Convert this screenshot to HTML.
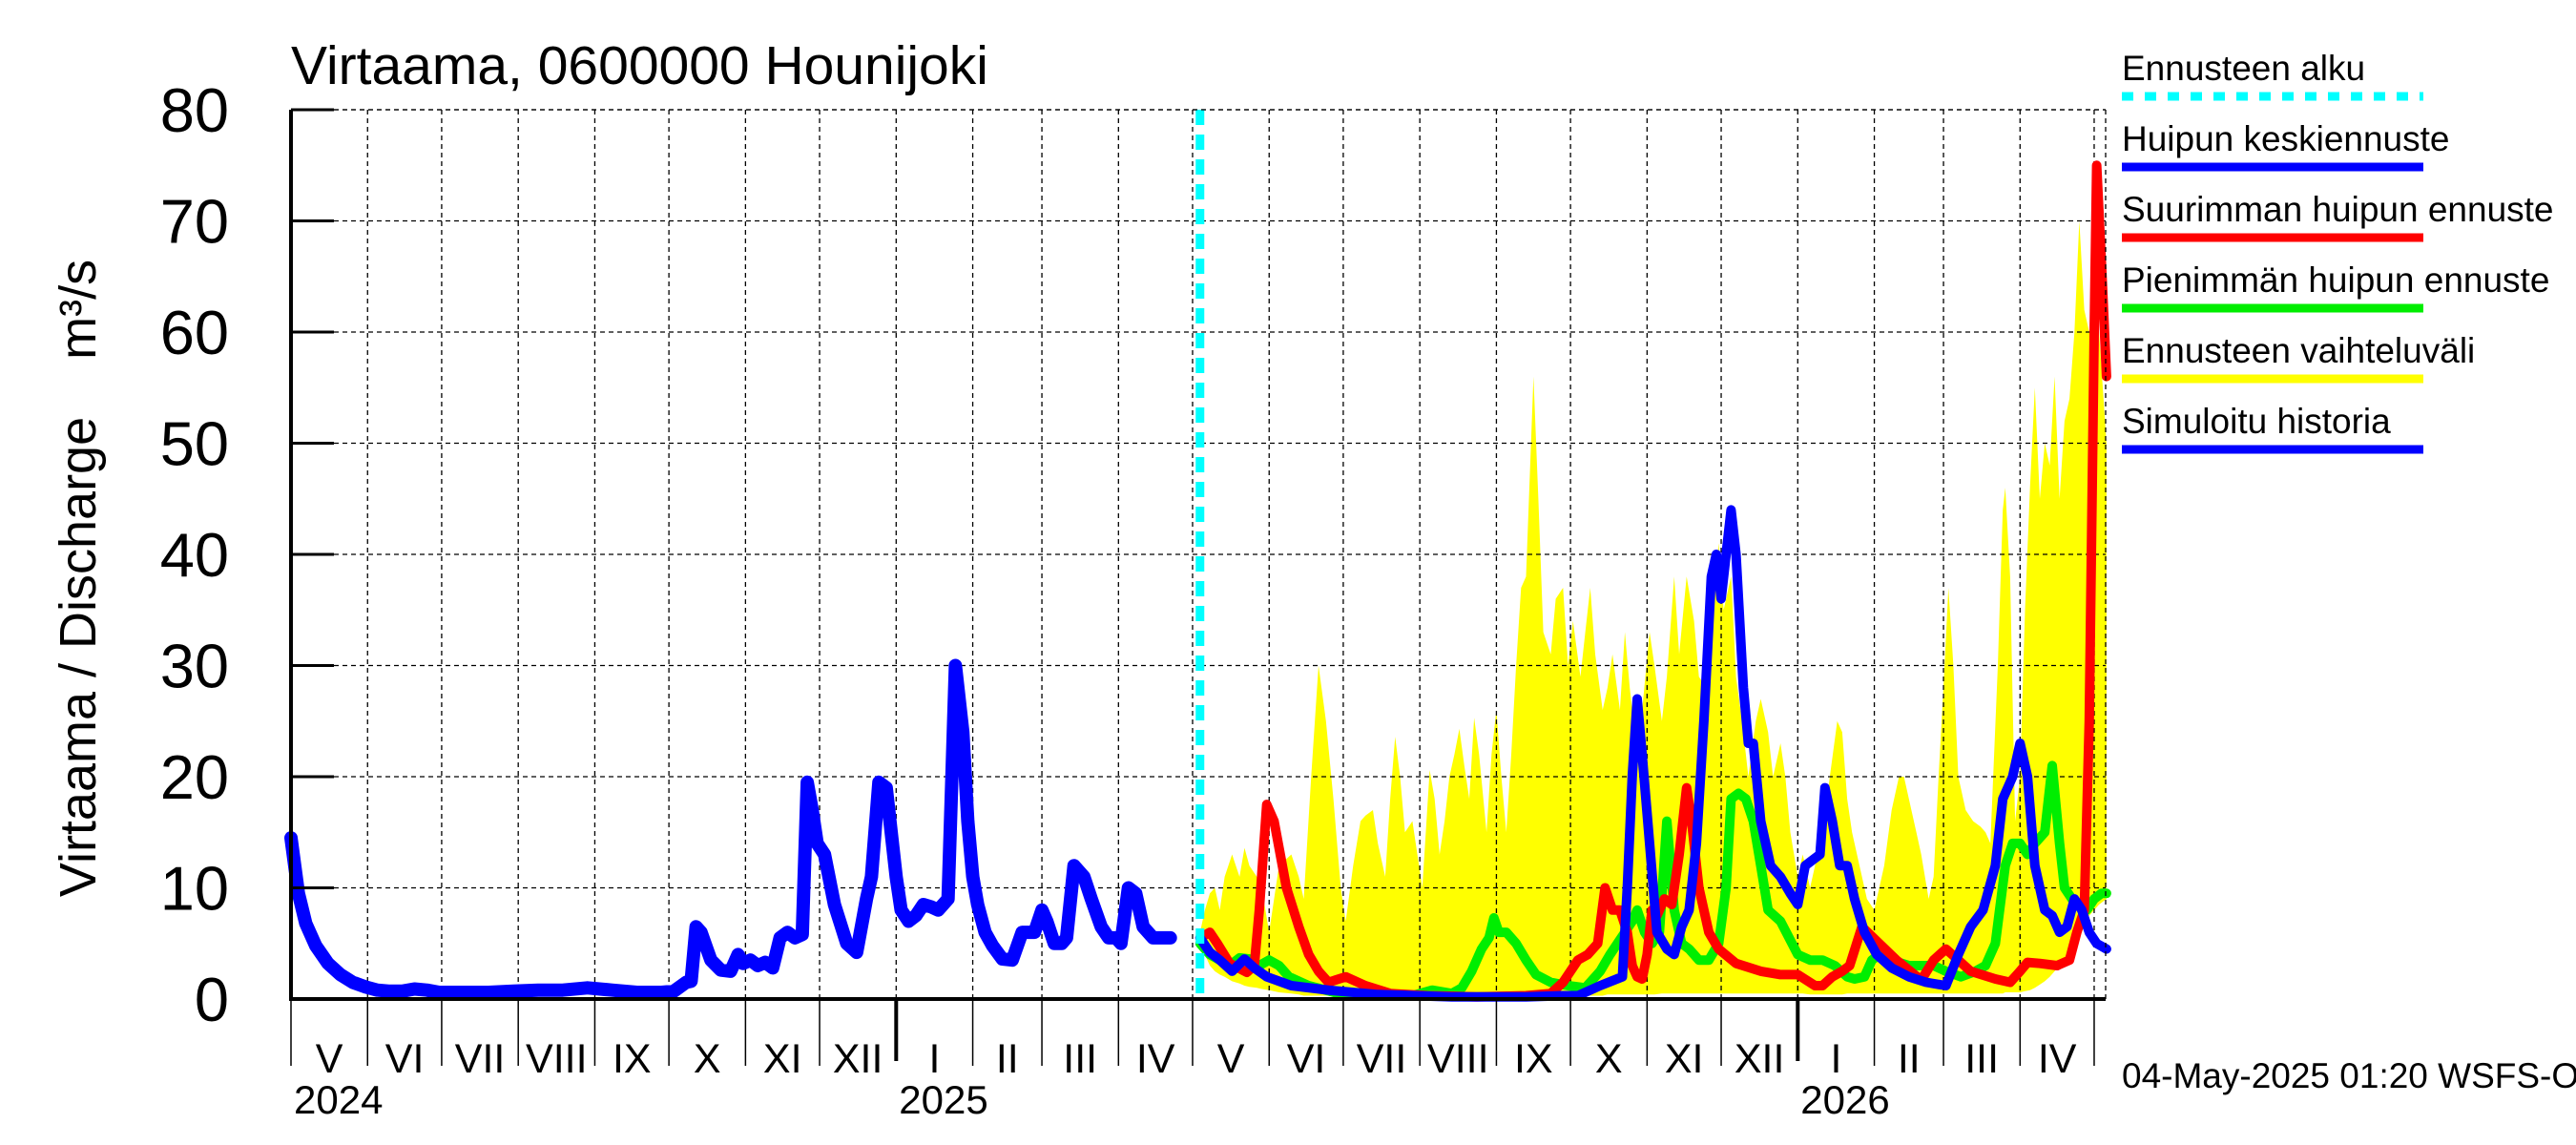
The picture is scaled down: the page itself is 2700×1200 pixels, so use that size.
<!DOCTYPE html>
<html><head><meta charset="utf-8">
<style>
html,body{margin:0;padding:0;background:#fff;}
svg{display:block;font-family:"Liberation Sans",Arial,sans-serif;}
</style></head>
<body>
<svg id="chart" width="2700" height="1200" viewBox="0 0 2700 1200">
<rect x="0" y="0" width="2700" height="1200" fill="#fff"/>
<g id="band"></g>
<g id="grid"></g>
<g id="series"></g>
<g id="axes"></g>
<text x="305" y="88" font-size="57">Virtaama, 0600000 Hounijoki</text>
<text transform="translate(100,606) rotate(-90)" text-anchor="middle" font-size="54">Virtaama / Discharge &#160;&#160; m³/s</text>
<text x="2224" y="1140" font-size="37">04-May-2025 01:20 WSFS-O</text>
<g id="legend"></g>
</svg>
<script>
// ---- data (day index from 1 May 2024) ----
const yTicks = [0,10,20,30,40,50,60,70,80];
const monthLabels = ["V","VI","VII","VIII","IX","X","XI","XII","I","II","III","IV","V","VI","VII","VIII","IX","X","XI","XII","I","II","III","IV"];
const monthStarts = [0,31,61,92,123,153,184,214,245,276,304,335,365,396,426,457,488,518,549,579,610,641,669,700,730];
const yearLabels = ["2024","2025","2026"];
const yearStarts = [0,245,610];
const forecastStart = 368;

const histDays = [0,3,6,10,15,20,25,30,35,40,45,50,55,60,70,80,90,100,110,120,130,140,150,155,160,162,164,166,170,174,178,181,183,186,189,192,195,198,201,204,207,209,211,213,216,220,225,229,233,235,238,241,243,245,247,250,253,256,259,262,266,269,272,274,276,278,281,284,288,292,296,301,304,306,309,312,314,317,321,324,328,331,334,336,339,342,345,349,353,356,359,361,364,366,368];
const histVals = [14.5,9.5,6.8,4.8,3.2,2.2,1.5,1.1,0.8,0.7,0.7,0.9,0.8,0.6,0.6,0.6,0.7,0.8,0.8,1.0,0.8,0.6,0.6,0.7,1.5,1.6,6.5,6.0,3.5,2.6,2.5,4.0,3.2,3.5,3.0,3.3,2.8,5.5,6.0,5.5,5.8,19.5,17.0,14.0,13.0,8.5,5.0,4.2,9.0,11.0,19.5,19.0,15.0,11.0,8.0,7.0,7.5,8.5,8.3,8.0,9.0,30.0,24.0,16.0,11.0,8.5,6.0,4.8,3.6,3.5,6.0,6.0,8.0,7.0,5.0,5.0,5.5,12.0,11.0,9.0,6.5,5.5,5.5,5.0,10.0,9.5,6.5,5.5,5.5,5.5];

const medDays = [368,372,376,381,386,390,395,405,420,440,470,500,515,521,530,539,541,543,545,547,550,553,557,560,563,566,569,572,575,577,579,581,583,585,588,590,592,595,599,603,607,610,613,616,619,621,624,627,630,633,637,642,648,655,662,670,675,680,685,690,693,697,700,703,706,710,713,716,719,722,725,728,731,735];
const medVals = [5.5,4.2,3.5,2.5,3.6,2.8,2.0,1.2,0.8,0.4,0.2,0.2,0.3,0.3,1.2,2.0,10.0,20.0,27.0,22.0,14.0,6.0,4.5,4.0,6.5,8.0,14.0,25.0,38.0,40.0,36.0,40.0,44.0,40.0,28.0,23.0,23.0,16.0,12.0,11.0,9.5,8.5,12.0,12.5,13.0,19.0,16.0,12.0,12.0,9.0,6.0,4.0,2.8,2.0,1.5,1.2,4.0,6.5,8.0,12.0,18.0,20.0,23.0,20.0,12.0,8.0,7.5,6.0,6.5,9.0,8.0,6.0,5.0,4.5];

const maxDays = [368,372,375,380,387,390,392,395,398,403,408,412,416,420,427,435,445,460,480,500,510,515,521,525,529,532,535,538,541,543,545,547,549,551,553,556,559,562,565,567,570,574,578,585,595,603,610,617,620,624,628,631,636,643,650,660,665,670,675,680,690,696,700,703,708,715,720,723,726,728,730,731,733,735];
const maxVals = [5.5,6.0,5.0,3.2,2.4,3.0,8.0,17.5,16.0,10.0,6.5,4.0,2.5,1.5,2.0,1.2,0.5,0.3,0.2,0.3,0.5,1.5,3.5,4.0,5.0,10.0,8.0,8.0,6.0,3.0,2.0,1.8,4.0,8.0,7.5,9.0,8.5,13.0,19.0,16.0,10.0,6.0,4.5,3.2,2.5,2.2,2.2,1.2,1.2,2.0,2.5,3.0,6.5,5.0,3.5,1.7,3.5,4.5,3.5,2.5,1.8,1.5,2.5,3.3,3.2,3.0,3.5,6.0,8.0,25.0,60.0,75.0,66.0,56.0];

const minDays = [368,372,376,380,384,388,392,396,400,404,412,424,440,454,462,470,474,478,482,485,487,489,492,496,500,504,510,517,524,530,534,537,540,543,545,548,551,554,557,560,563,566,570,574,578,581,583,586,589,592,595,598,603,610,615,620,625,630,633,637,640,643,648,655,660,665,670,676,682,686,690,694,697,700,703,706,710,713,716,718,721,724,727,730,733,735];
const minVals = [5.0,4.0,3.5,3.0,3.7,3.6,3.0,3.5,3.0,2.0,1.2,0.5,0.3,0.3,0.8,0.5,1.0,2.5,4.5,5.5,7.3,6.0,6.0,5.0,3.5,2.2,1.5,1.2,1.0,2.5,4.0,5.0,6.0,7.0,8.0,6.0,5.0,6.0,16.0,8.0,5.0,4.5,3.5,3.5,5.0,10.0,18.0,18.5,18.0,16.0,12.0,8.0,7.0,4.0,3.5,3.5,3.0,2.0,1.8,2.0,3.5,4.0,3.5,3.0,3.0,3.0,2.5,2.0,2.5,3.0,5.0,12.0,14.0,14.0,13.0,14.0,15.0,21.0,14.0,10.0,9.0,8.5,8.0,9.0,9.5,9.5];

const bandDays = [368,370,372,374,376,378,381,384,386,388,391,393,396,400,405,408,410,413,416,419,422,425,427,430,433,435,438,440,443,445,447,449,451,454,456,458,461,463,465,467,469,471,473,475,477,479,481,484,486,488,490,492,494,496,498,500,503,505,507,510,512,515,517,519,522,524,526,528,531,533,535,538,540,542,545,547,550,552,555,557,560,562,565,568,570,573,575,578,580,583,585,588,590,593,595,598,600,603,605,607,610,612,615,617,620,623,626,628,630,632,635,638,641,645,648,651,653,656,658,660,663,665,667,669,671,673,675,678,681,684,686,688,691,693,694,696,698,700,702,704,706,708,710,712,714,716,718,720,722,724,726,728,730,732,735];
const bandUpper = [6.0,8.0,9.5,10.0,8.0,11.0,13.0,11.0,13.6,12.0,11.0,10.0,6.0,12.0,13.0,11.0,9.0,20.0,30.0,25.0,18.0,10.0,7.0,12.0,16.0,16.5,17.0,14.0,11.0,18.0,23.6,20.0,15.0,16.0,13.0,10.0,20.6,18.0,13.0,16.0,20.0,22.0,24.3,21.0,18.0,25.3,22.0,15.0,22.0,26.0,20.0,15.0,22.0,30.0,37.0,38.0,56.0,45.0,33.0,31.0,36.0,37.0,30.0,34.0,29.0,33.0,37.0,31.0,26.0,28.0,31.0,26.0,33.0,28.0,22.0,26.0,33.0,30.0,25.0,29.0,38.0,31.0,38.0,34.0,29.0,28.0,34.0,41.0,35.0,38.0,29.0,24.0,20.0,25.0,27.0,24.0,20.0,23.0,20.0,15.0,11.0,13.0,10.0,12.0,15.0,20.0,25.0,24.0,18.0,15.0,12.0,9.0,8.0,12.0,17.0,20.0,20.0,17.0,15.0,13.0,9.0,11.0,20.0,28.0,37.0,30.0,20.0,17.0,16.0,15.5,15.0,14.0,30.0,44.0,46.0,38.0,16.0,20.0,35.0,46.0,55.0,45.0,50.0,48.0,56.0,45.0,52.0,54.0,60.0,70.0,62.0,60.0,66.0,60.0,50.0];
const bandLower = [5.0,4.0,3.0,2.5,2.2,2.0,1.6,1.4,1.2,1.1,1.0,0.9,0.8,0.6,0.5,0.4,0.3,0.3,0.3,0.3,0.3,0.3,0.3,0.3,0.3,0.3,0.3,0.3,0.3,0.3,0.3,0.3,0.3,0.3,0.3,0.3,0.3,0.3,0.3,0.3,0.3,0.3,0.3,0.3,0.3,0.3,0.3,0.3,0.3,0.3,0.3,0.3,0.3,0.3,0.3,0.3,0.3,0.3,0.3,0.3,0.3,0.3,0.3,0.3,0.3,0.3,0.3,0.3,0.3,0.4,0.4,0.4,0.4,0.4,0.4,0.4,0.4,0.4,0.5,0.5,0.5,0.5,0.5,0.5,0.5,0.5,0.5,0.5,0.5,0.5,0.5,0.5,0.5,0.5,0.5,0.5,0.5,0.5,0.5,0.5,0.5,0.5,0.4,0.4,0.4,0.4,0.4,0.4,0.5,0.5,0.5,0.5,0.5,0.5,0.5,0.5,0.5,0.5,0.5,0.5,0.5,0.5,0.5,0.5,0.5,0.5,0.5,0.5,0.5,0.5,0.5,0.5,0.5,0.5,0.6,0.6,0.6,0.6,0.7,0.8,1.0,1.3,1.6,2.0,2.5,3.0,3.5,4.5,5.5,6.0,7.0,7.5,8.0,8.5,9.0];

const legendLabels = ["Ennusteen alku","Huipun keskiennuste","Suurimman huipun ennuste","Pienimmän huipun ennuste","Ennusteen vaihteluväli","Simuloitu historia"];
const legendColors = ["#00ffff","#0000ff","#ff0000","#00ee00","#ffff00","#0000ff"];

// ---- axes functions ----
const X0 = 305, X1 = 2207, Y0 = 1047, YTOP = 115;
const DAY_PX = 2.589;
function xs(d){ return X0 + d * DAY_PX; }
function ys(v){ return Y0 - (v / 80) * (Y0 - YTOP); }
const NS = "http://www.w3.org/2000/svg";
function mk(tag, parent, attrs){
  const e = document.createElementNS(NS, tag);
  for (const k in attrs) e.setAttribute(k, attrs[k]);
  parent.appendChild(e); return e;
}
function pathFrom(days, vals){
  return days.map((d,i)=>(i?"L":"M")+xs(d).toFixed(1)+","+ys(vals[i]).toFixed(1)).join(" ");
}

const grid = document.getElementById("grid");
const axes = document.getElementById("axes");
const series = document.getElementById("series");
const band = document.getElementById("band");
const legend = document.getElementById("legend");

yTicks.forEach(t=>{
  if (t===0) return;
  const l = mk("line", grid, {x1:X0, x2:X1, y1:ys(t), y2:ys(t), stroke:"#000", "stroke-width":1.3, "stroke-dasharray":"5,4"});
  
  
});
monthStarts.forEach((d,i)=>{
  if (i===0) return;
  const l = mk("line", grid, {x1:xs(d), x2:xs(d), y1:YTOP, y2:Y0, stroke:"#000", "stroke-width":1.3, "stroke-dasharray":"5,4"});
  
  
});

{
  let dStr = bandDays.map((d,i)=>(i?"L":"M")+xs(d).toFixed(1)+","+ys(bandUpper[i]).toFixed(1)).join(" ");
  for (let i = bandDays.length-1; i>=0; i--) dStr += " L"+xs(bandDays[i]).toFixed(1)+","+ys(bandLower[i]).toFixed(1);
  const p = mk("path", band, {d:dStr+" Z", fill:"#ffff00", stroke:"none"});
  
  
}

function line(days, vals, color, w, name){
  const p = mk("path", series, {d:pathFrom(days, vals), fill:"none", stroke:color, "stroke-width":w, "stroke-linejoin":"round", "stroke-linecap":"round"});
  
  
}
line(minDays, minVals, "#00ee00", 10, "min-peak-forecast-line");
line(maxDays, maxVals, "#ff0000", 10, "max-peak-forecast-line");
line(medDays, medVals, "#0000ff", 10, "median-peak-forecast-line");
line(histDays, histVals, "#0000ff", 14, "simulated-history-line");

{
  const l = mk("line", series, {x1:xs(forecastStart), x2:xs(forecastStart), y1:YTOP, y2:Y0, stroke:"#00ffff", "stroke-width":9, "stroke-dasharray":"16,10"});
  
  
}

{
  const a = mk("line", axes, {x1:X0, x2:X0, y1:YTOP, y2:Y0, stroke:"#000", "stroke-width":4});
  
  
  const b = mk("line", axes, {x1:X0-2, x2:X1, y1:Y0, y2:Y0, stroke:"#000", "stroke-width":4});
  
  
  const r = mk("line", axes, {x1:X1, x2:X1, y1:YTOP, y2:Y0, stroke:"#000", "stroke-width":1.3, "stroke-dasharray":"5,4"});
  
  
  const t = mk("line", axes, {x1:X0, x2:X1, y1:YTOP, y2:YTOP, stroke:"#000", "stroke-width":1.3, "stroke-dasharray":"5,4"});
  
  
}
yTicks.forEach(t=>{
  const tk = mk("line", axes, {x1:X0, x2:X0+45, y1:ys(t), y2:ys(t), stroke:"#000", "stroke-width":3});
  
  
  const tx = mk("text", axes, {x:240, y:ys(t)+23, "text-anchor":"end", "font-size":65});
  tx.textContent = t;
  
  
});
monthStarts.forEach((d,i)=>{
  const isYear = yearStarts.indexOf(d) > 0;
  const l = mk("line", axes, {x1:xs(d), x2:xs(d), y1:Y0, y2:isYear?1112:1117, stroke:"#000", "stroke-width":isYear?4:1.5});
  
  
  if (i < monthLabels.length){
    const tx = mk("text", axes, {x:(xs(d)+xs(monthStarts[i+1]))/2, y:1124, "text-anchor":"middle", "font-size":43});
    tx.textContent = monthLabels[i];
    
    
  }
});
yearLabels.forEach((y,i)=>{
  const tx = mk("text", axes, {x:xs(yearStarts[i])+3, y:1167, "font-size":42});
  tx.textContent = y;
  
  
});

legendLabels.forEach((lab,i)=>{
  const y = 84 + i*74;
  const tx = mk("text", legend, {x:2224, y:y, "font-size":37});
  tx.textContent = lab;
  
  
  const attrs = {x1:2224, x2:2540, y1:y+17, y2:y+17, stroke:legendColors[i], "stroke-width":9};
  if (i===0) attrs["stroke-dasharray"] = "12,12";
  const ln = mk("line", legend, attrs);
  
  
});
</script>
</body></html>
